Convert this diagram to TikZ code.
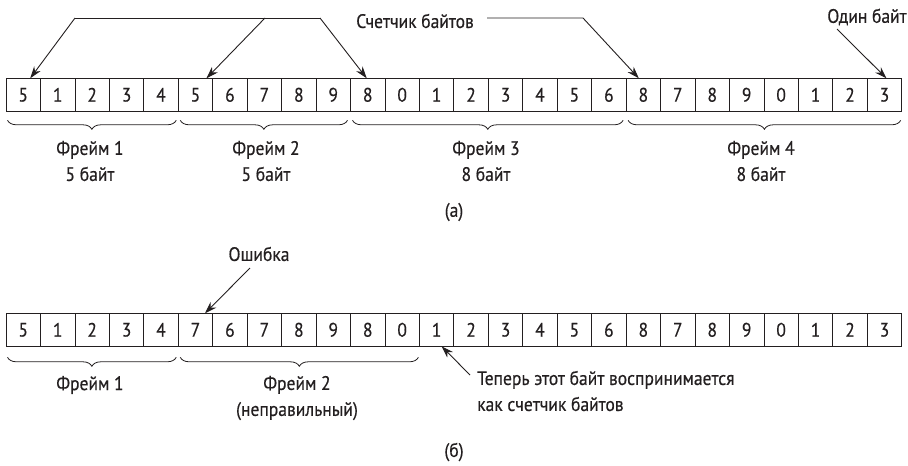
\documentclass[tikz,border=0pt]{standalone}
\usepackage{fontspec}
\setmainfont{PT Sans}[FakeStretch=0.9,FakeBold=0.4]
\usetikzlibrary{arrows.meta,decorations.pathreplacing,calc}
\definecolor{ink}{HTML}{231F20}
\begin{document}
\begin{tikzpicture}[x=1pt,y=-1pt,
  cell/.style={draw=ink,line width=0.8pt,minimum width=34.45pt,minimum height=33pt,inner sep=0pt,outer sep=0pt,text=ink,font=\fontsize{19.5}{20}\selectfont},
  lbl/.style={font=\fontsize{19.5}{26}\selectfont,text=ink,inner sep=0pt},
  arr/.style={draw=ink,line width=0.9pt,-{Stealth[length=12pt,width=8pt]}},
  ln/.style={draw=ink,line width=0.9pt},
  brc/.style={draw=ink,line width=0.8pt,decorate,decoration={brace,mirror,amplitude=9pt}}]
\useasboundingbox (0,0) rectangle (908,466);
% row (a)
\foreach \d [count=\i] in {5,1,2,3,4,5,6,7,8,9,8,0,1,2,3,4,5,6,8,7,8,9,0,1,2,3}
  \node[cell] (a\i) at ({6+(\i-0.5)*34.45},94.8) {\d};
% row (b)
\foreach \d [count=\i] in {5,1,2,3,4,7,6,7,8,9,8,0,1,2,3,4,5,6,8,7,8,9,0,1,2,3}
  \node[cell] (b\i) at ({6+(\i-0.5)*34.45},329.8) {\d};
% byte counter arrows
\node[lbl] (cnt) at (415,21) {Счетчик байтов};
\coordinate (c1) at (75,18);
\coordinate (c2) at (265,18);
\coordinate (c3) at (320,18);
\coordinate (c4) at (487,18);
\coordinate (c5) at (583,18);
\draw[ln] (c1) -- (c3);
\draw[arr] (c1) -- ($(a1.north)+(7,0)$);
\draw[arr] (c2) -- ($(a6.north)+(11,0)$);
\draw[arr] (c3) -- ($(a11.north)+(-1,0)$);
\draw[arr] (c4) -- (c5) -- ($(a19.north)+(-4.5,0)$);
% one byte
\node[lbl] (one) at (867,17) {Один байт};
\coordinate (o1) at (837,29);
\draw[arr] (o1) -- ($(a26.north)+(2,0)$);
% braces (a)
\draw[brc] ($(a1.south west)+(1.5,9)$) -- ($(a5.south east)+(-2,9)$);
\draw[brc] ($(a6.south west)+(2,9)$) -- ($(a10.south east)+(-3,9)$);
\draw[brc] ($(a11.south west)+(2,9)$) -- ($(a18.south east)+(-3,9)$);
\draw[brc] ($(a19.south west)+(2,9)$) -- ($(a26.south east)+(-1,9)$);
\node[lbl,align=center] (fa1) at (90,161) {Фрейм 1\\5 байт};
\node[lbl,align=center] (fa2) at (266,161) {Фрейм 2\\5 байт};
\node[lbl,align=center] (fa3) at (486,161) {Фрейм 3\\8 байт};
\node[lbl,align=center] (fa4) at (761,161) {Фрейм 4\\8 байт};
\node[lbl] (capa) at (454,212) {(а)};
% row (b) annotations
\node[lbl] (err) at (259,254) {Ошибка};
\coordinate (e1) at (250,268);
\draw[arr] (e1) -- ($(b6.north)+(9.5,0)$);
\draw[brc] ($(b1.south west)+(1.5,11)$) -- ($(b5.south east)+(-2,11)$);
\draw[brc] ($(b6.south west)+(2,11)$) -- ($(b12.south east)+(-1,11)$);
\node[lbl] (fb1) at (90,385) {Фрейм 1};
\node[lbl,align=center] (fb2) at (297,398) {Фрейм 2\\(неправильный)};
\node[lbl,align=left,anchor=west] (now) at (477,391) {Теперь этот байт воспринимается\\как счетчик байтов};
\coordinate (n1) at (470,375);
\draw[arr] (n1) -- ($(b13.south)+(5,0)$);
\node[lbl] (capb) at (454,452) {(б)};
\end{tikzpicture}
\end{document}
